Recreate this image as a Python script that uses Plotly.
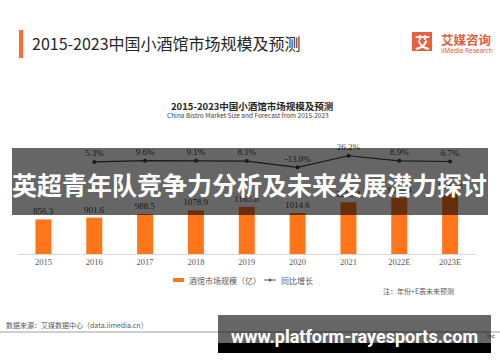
import plotly.graph_objects as go

years = ["2015", "2016", "2017", "2018", "2019", "2020", "2021", "2022E", "2023E"]
market_size = [856.3, 901.6, 988.5, 1078.9, 1165.8, 1014.6, 1280.4, 1394.4, 1487.8]
growth_years = ["2016", "2017", "2018", "2019", "2020", "2021", "2022E", "2023E"]
growth_pct = [5.3, 9.6, 9.1, 8.1, -13.0, 26.2, 8.9, 6.7]

W_FIG, H_FIG = 500, 362
L, R, T, B = 18, 24, 140, 108
PW = W_FIG - L - R
PH = H_FIG - T - B
BOTTOM = H_FIG - B

def px(x):
    return (x - L) / PW

def py(y):
    return (BOTTOM - y) / PH

BAR_COLOR = "#FF751A"
LINE_COLOR = "#404040"
CJK = "Noto Sans CJK SC"
NUM = "Liberation Serif"

fig = go.Figure()
fig.add_trace(go.Bar(
    x=years, y=market_size, name="酒馆市场规模（亿）",
    marker=dict(color=BAR_COLOR, line=dict(width=0)),
    texttemplate="%{y:.1f}", textposition="outside", constraintext="none",
    textfont=dict(family=NUM, size=9, color="#404040"),
    cliponaxis=False, showlegend=False,
))
fig.add_trace(go.Scatter(
    x=growth_years, y=growth_pct, name="同比增长", yaxis="y2",
    mode="lines+markers+text",
    line=dict(color=LINE_COLOR, width=1.2),
    marker=dict(color=LINE_COLOR, size=4),
    text=[f"{v:.1f}%" for v in growth_pct], textposition="top center",
    textfont=dict(family=NUM, size=9, color="#404040"),
    cliponaxis=False, showlegend=False,
))

shapes = []
annotations = []

def rect(x0, y0, x1, y1, color, layer="above"):
    shapes.append(dict(type="rect", xref="paper", yref="paper",
                       x0=px(x0), x1=px(x1), y0=py(y1), y1=py(y0),
                       fillcolor=color, line=dict(width=0), layer=layer))

def text(x, y, s, size, color, family=CJK, anchor="left", weight="normal"):
    annotations.append(dict(xref="paper", yref="paper", x=px(x), y=py(y),
                            text=s, showarrow=False, xanchor=anchor, yanchor="middle",
                            font=dict(family=family, size=size, color=color, weight=weight)))

# header
rect(19, 30, 23, 58, "#FF6B35")
text(30, 43, "2015-2023中国小酒馆市场规模及预测", 16, "#262626")
rect(412, 32, 432, 51, "#E8613F")
text(422, 41.5, "艾", 15, "white", anchor="center", weight="bold")
text(439, 39.5, "艾媒咨询", 12.5, "#E0603A", weight="bold")
text(439, 50.5, "iiMedia Research", 6.5, "#E0603A", family="Noto Sans")

# chart titles
text(252, 106, "2015-2023中国小酒馆市场规模及预测", 9.5, "#262626", anchor="center", weight="bold")
text(248, 114.5, "China Bistro Market Size and Forecast from 2015-2023", 6.5, "#404040", anchor="center")

# legend
rect(173, 278, 184, 282, BAR_COLOR)
text(187, 280, "酒馆市场规模（亿）", 8, "#595959")
shapes.append(dict(type="line", xref="paper", yref="paper", x0=px(264), x1=px(276),
                   y0=py(280), y1=py(280), line=dict(color="#595959", width=1)))
shapes.append(dict(type="circle", xref="paper", yref="paper", x0=px(268.5), x1=px(271.5),
                   y0=py(281.5), y1=py(278.5), fillcolor="#595959", line=dict(width=0)))
text(279, 280, "同比增长", 8, "#595959")

# note and source
text(381, 291, "注：年份+E表未来预测", 7, "#595959")
text(4, 325, "数据来源：艾媒数据中心（data.iimedia.cn）", 7, "#595959")
shapes.append(dict(type="line", xref="paper", yref="paper", x0=px(0), x1=px(500),
                   y0=py(332), y1=py(332), line=dict(color="#BFBFBF", width=1.5)))

# overlay band
rect(12, 148, 488, 215, "rgba(0,0,0,0.6)")
text(250, 184, "英超青年队竞争力分析及未来发展潜力探讨", 25, "white", anchor="center", weight="bold")

# bottom banner
rect(218, 315, 491, 343, "rgba(0,0,0,0.6)")
rect(218, 343, 491, 353, "black")
text(485, 336, "Inc", 5.5, "#2a2a2a")
text(354, 336.5, "www.platform-rayesports.com", 18, "white", family="Roboto", anchor="center", weight="bold")

fig.update_layout(
    width=W_FIG, height=H_FIG, autosize=False,
    margin=dict(l=L, r=R, t=T, b=B, pad=0),
    paper_bgcolor="white", plot_bgcolor="white",
    bargap=0.686, showlegend=False, hovermode=False,
    xaxis=dict(type="category", showgrid=False, zeroline=False, showline=True,
               linecolor="#D9D9D9", linewidth=1, ticks="",
               tickfont=dict(family=NUM, size=8.5, color="#595959")),
    yaxis=dict(range=[0, PH / 0.0404], visible=False, showgrid=False, zeroline=False),
    yaxis2=dict(range=[-90.5 / 0.296, (PH - 90.5) / 0.296], overlaying="y",
                visible=False, showgrid=False, zeroline=False),
    shapes=shapes, annotations=annotations,
)

fig.write_html("out.html", config={"displayModeBar": False},
               post_script="document.body.style.margin='0';")
